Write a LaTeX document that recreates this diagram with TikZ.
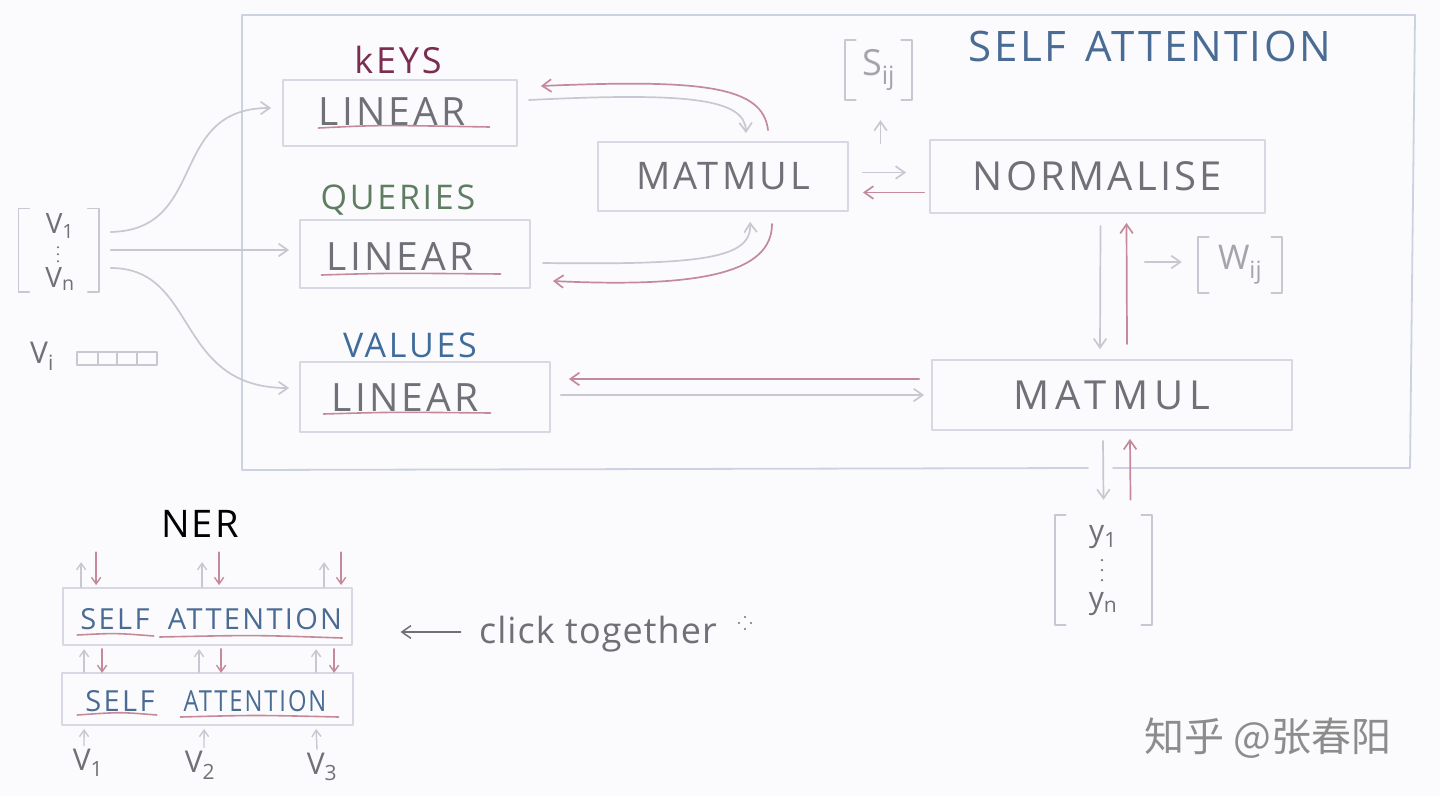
\documentclass[tikz,border=0pt]{standalone}
\usepackage{fontspec}
\setmainfont{Open Sans}
\newfontfamily\cjk{Noto Sans CJK SC}
\usetikzlibrary{arrows.meta,calc}
\definecolor{bg}{HTML}{FBFBFD}
\definecolor{boxc}{HTML}{D9D8E2}
\definecolor{framec}{HTML}{CCD2E2}
\definecolor{graya}{HTML}{C8C8D2}
\definecolor{reda}{HTML}{C48A9A}
\definecolor{txtc}{HTML}{707078}
\definecolor{lightt}{HTML}{A4A4AC}
\definecolor{bluet}{HTML}{4A6B94}
\definecolor{keyc}{HTML}{7B2D4F}
\definecolor{queryc}{HTML}{5F7D62}
\definecolor{valc}{HTML}{3F6C9A}
\definecolor{wmc}{HTML}{8C8C8C}
\newcommand\drawbrackets[1]{%
  \draw[brk] ($(#1.north west)+(11,0)$) -- (#1.north west) -- (#1.south west) -- ($(#1.south west)+(11,0)$);
  \draw[brk] ($(#1.north east)+(-11,0)$) -- (#1.north east) -- (#1.south east) -- ($(#1.south east)+(-11,0)$);}
\tikzset{
  blk/.style={draw=boxc, line width=1.8pt, inner sep=0pt},
  hand/.style={text=txtc, inner sep=0pt, font=\fontsize{#1}{#1}\selectfont\addfontfeatures{LetterSpace=8}},
  hand/.default=38,
  grayarr/.style={draw=graya, line width=1.7pt, ->},
  redarr/.style={draw=reda, line width=1.7pt, ->},
  smallg/.style={draw=graya, line width=1.4pt, -{Straight Barb[angle=70:8pt 0]}},
  smallr/.style={draw=reda, line width=1.4pt, -{Straight Barb[angle=70:8pt 0]}},
  uline/.style={draw=reda, line width=1.6pt},
  brk/.style={draw=graya, line width=1.6pt},
  frame/.style={draw=framec, line width=1.8pt},
}
\begin{document}
\begin{tikzpicture}[x=1pt,y=-1pt,>={Straight Barb[angle=70:11pt 0]},line cap=round,line join=round]
\useasboundingbox[fill=bg] (0,0) rectangle (1440,796);

% frame
\draw[frame] (1088,468) -- (242,470) -- (242,15) -- (1415,15) -- (1410,468) -- (1113,468);
\node[hand=42, text=bluet, font=\fontsize{42}{42}\selectfont\addfontfeatures{LetterSpace=6}] (title) at (1150,46) {SELF\hspace{6pt} ATTENTION};

% linear boxes
\node[blk, minimum width=234pt, minimum height=66pt] (kbox) at (400,113) {};
\node[blk, minimum width=230pt, minimum height=68pt] (qbox) at (415,254) {};
\node[blk, minimum width=250pt, minimum height=70pt] (vbox) at (425,397) {};
\node[hand=36, text=keyc] (klab) at (398,60) {kEYS};
\node[hand=34, text=queryc] (qlab) at (398,200) {QUERIES};
\node[hand=34, text=valc] (vlab) at (410,345) {VALUES};
\node[hand=39] (lk) at (392,112) {LINEAR};
\node[hand=39] (lq) at (400,257) {LINEAR};
\node[hand=39] (lv) at (405,398) {LINEAR};
\draw[uline] ($(lk.west)+(0,16)$) .. controls ($(lk.west)+(60,13)$) .. ($(lk.east)+(24,15)$);
\draw[uline] ($(lq.west)+(-5,18)$) .. controls ($(lq.west)+(60,16)$) .. ($(lq.east)+(27,17)$);
\draw[uline] ($(lv.west)+(-8,16)$) .. controls ($(lv.west)+(60,14)$) .. ($(lv.east)+(12,15)$);

% matmul / normalise
\node[blk, minimum width=250pt, minimum height=69pt, hand=38] (mm1) at (723,176.5) {MATMUL};
\node[blk, minimum width=335pt, minimum height=73pt, hand=40] (norm) at (1097.5,176.5) {NORMALISE};
\node[blk, minimum width=360pt, minimum height=70pt, hand=40, font=\fontsize{40}{40}\selectfont\addfontfeatures{LetterSpace=15}] (mm2) at (1112,395) {MATMUL};

% S_ij and W_ij
\node[inner sep=0pt, minimum width=67pt, minimum height=60pt, text=lightt, font=\fontsize{36}{36}\selectfont] (sij) at (878.5,70) {S\textsubscript{ij}};
\drawbrackets{sij}
\node[inner sep=0pt, minimum width=84pt, minimum height=56pt, text=lightt, font=\fontsize{34}{34}\selectfont] (wij) at (1240,265) {W\textsubscript{ij}};
\drawbrackets{wij}
\draw[grayarr] ($(sij.south)+(2,43)$) -- ($(sij.south)+(2,20)$);
\draw[grayarr] ($(wij.west)+(-53,-3)$) -- ($(wij.west)+(-16,-3)$);

% keys / queries arrows
\draw[redarr] ($(mm1.north)+(45,-11)$) .. controls ($(mm1.north)+(40,-55)$) and ($(mm1.north)+(-20,-62)$) .. ($(kbox.east)+(23,-27)$);
\draw[grayarr] ($(kbox.east)+(11,-13)$) .. controls ($(kbox.east)+(173,-21)$) and ($(mm1.north)+(22,-42)$) .. ($(mm1.north)+(23,-8)$);
\draw[grayarr] ($(qbox.east)+(12,9)$) .. controls ($(qbox.east)+(170,11)$) and ($(mm1.south)+(29,47)$) .. ($(mm1.south)+(27,10)$);
\draw[redarr] ($(mm1.south)+(49,12)$) .. controls ($(mm1.south)+(49,61)$) and ($(qbox.east)+(170,34)$) .. ($(qbox.east)+(22,27)$);
% values
\draw[redarr] ($(mm2.west)+(-12,-16)$) -- ($(vbox.east)+(18,-18)$);
\draw[grayarr] ($(vbox.east)+(10,-2)$) -- ($(mm2.west)+(-7,0)$);
% matmul - normalise
\draw[grayarr] ($(mm1.east)+(14,-4)$) -- ($(norm.west)+(-23,-4)$);
\draw[redarr] ($(norm.west)+(-5,16)$) -- ($(mm1.east)+(14,16)$);
\draw[grayarr] ($(norm.south)+(3,12)$) -- ($(mm2.north)+(-12,-10)$);
\draw[redarr] ($(mm2.north)+(15,-15)$) -- ($(norm.south)+(29,9)$);

% outputs y
\node[inner sep=0pt, minimum width=97pt, minimum height=110pt] (ybr) at (1103.5,570) {};
\drawbrackets{ybr}
\node[text=txtc, font=\fontsize{30}{30}\selectfont] (y1) at (1103,537) {y\textsubscript{1}};
\node[text=txtc, font=\fontsize{30}{30}\selectfont] (yn) at (1103,604) {y\textsubscript{n}};
\fill[txtc] ($(y1.south)+(-1,8)$) circle (1.3) ($(y1.south)+(-1,18)$) circle (1.3) ($(y1.south)+(-1,28)$) circle (1.3);
\draw[grayarr] ($(mm2.south)+(-9,10)$) -- ($(ybr.north)+(0,-15)$);
\draw[redarr] ($(ybr.north)+(27,-15)$) -- ($(mm2.south)+(18,8)$);

% inputs v
\node[inner sep=0pt, minimum width=80pt, minimum height=83pt] (vvec) at (58.5,250) {};
\drawbrackets{vvec}
\node[text=txtc, font=\fontsize{28}{28}\selectfont] (v1) at (60,226) {V\textsubscript{1}};
\node[text=txtc, font=\fontsize{28}{28}\selectfont] (vn) at (60,279) {V\textsubscript{n}};
\fill[txtc] ($(v1.south)+(-2,5)$) circle (1.1) ($(v1.south)+(-2,12)$) circle (1.1) ($(v1.south)+(-2,19)$) circle (1.1);
\draw[grayarr] ($(vvec.east)+(12,-18)$) .. controls ($(vvec.east)+(110,-20)$) and ($(kbox.west)+(-115,-5)$) .. ($(kbox.west)+(-11,-5)$);
\draw[grayarr] ($(vvec.east)+(12,0)$) -- ($(qbox.west)+(-10,-4)$);
\draw[grayarr] ($(vvec.east)+(12,18)$) .. controls ($(vvec.east)+(100,18)$) and ($(vbox.west)+(-125,-9)$) .. ($(vbox.west)+(-10,-9)$);

% V_i vector
\node[text=txtc, font=\fontsize{30}{30}\selectfont] (vi) at (42,356) {V\textsubscript{i}};
\draw[draw=graya, line width=1.5pt] (77,352) rectangle (157,365);
\draw[draw=graya, line width=1.5pt] (98,352) -- (98,365) (117,352) -- (117,365) (137,352) -- (137,365);

% NER
\node[text=black, font=\fontsize{38}{38}\selectfont\addfontfeatures{LetterSpace=6}] (ner) at (200,524) {NER};
\node[blk, minimum width=289pt, minimum height=57pt] (sa1) at (207.5,616.5) {};
\node[blk, minimum width=291pt, minimum height=52pt] (sa2) at (207.5,699) {};
\node[hand=29, text=bluet] (s1a) at (115,619) {SELF};
\node[hand=29, text=bluet] (s1b) at (255,619) {ATTENTION};
\node[hand=29, text=bluet] (s2a) at (120,701) {SELF};
\node[hand=29, text=bluet] (s2b) at (255,701) {\scalebox{0.82}[1]{ATTENTION}};
\draw[uline] ($(s1a.west)+(-3,16)$) .. controls ($(s1a.center)+(0,14)$) .. ($(s1a.east)+(4,17)$);
\draw[uline] ($(s1b.west)+(-8,18)$) .. controls ($(s1b.center)+(0,16)$) .. ($(s1b.east)+(0,19)$);
\draw[uline] ($(s2a.west)+(-8,14)$) .. controls ($(s2a.center)+(0,11)$) .. ($(s2a.east)+(2,14)$);
\draw[uline] ($(s2b.west)+(-3,16)$) .. controls ($(s2b.center)+(0,14)$) .. ($(s2b.east)+(12,16)$);
\foreach \g/\r in {19/34, 140/157, 262/279}{
  \draw[smallg] ($(sa1.north west)+(\g,0)$) -- ($(sa1.north west)+(\g,-25)$);
  \draw[smallr] ($(sa1.north west)+(\r,-35)$) -- ($(sa1.north west)+(\r,-2)$);
}
\foreach \g/\r in {23/40, 138/159, 255/272}{
  \draw[smallg] ($(sa2.north west)+(\g,0)$) -- ($(sa2.north west)+(\g,-23)$);
  \draw[smallr] ($(sa1.south west)+(\r,3)$) -- ($(sa1.south west)+(\r,27)$);
}
\node[text=txtc, font=\fontsize{30}{30}\selectfont] (w1) at (88,763) {V\textsubscript{1}};
\node[text=txtc, font=\fontsize{30}{30}\selectfont] (w2) at (200,765) {V\textsubscript{2}};
\node[text=txtc, font=\fontsize{30}{30}\selectfont] (w3) at (322,767) {V\textsubscript{3}};
\draw[smallg] ($(w1.north)+(-4,0)$) -- ($(sa2.south west)+(23,3)$);
\draw[smallg] ($(w2.north)+(4,0)$) -- ($(sa2.south west)+(143,3)$);
\draw[smallg] ($(w3.north)+(-5,0)$) -- ($(sa2.south west)+(255,3)$);

% click together
\node[text=txtc, font=\fontsize{36}{36}\selectfont\addfontfeatures{LetterSpace=3}] (click) at (598,634) {click together};
\draw[draw=txtc, line width=1.5pt, ->] ($(click.west)+(-15,-2)$) -- ($(click.west)+(-75,-2)$);
\fill[txtc] (745,617) circle (1.2) (745,629) circle (1.2) (739,623) circle (1.2) (751,623) circle (1.2);

% watermark
\node[text=wmc, font=\cjk\fontsize{40}{40}\selectfont] (wm) at (1268,738) {知乎 @张春阳};
\end{tikzpicture}
\end{document}
